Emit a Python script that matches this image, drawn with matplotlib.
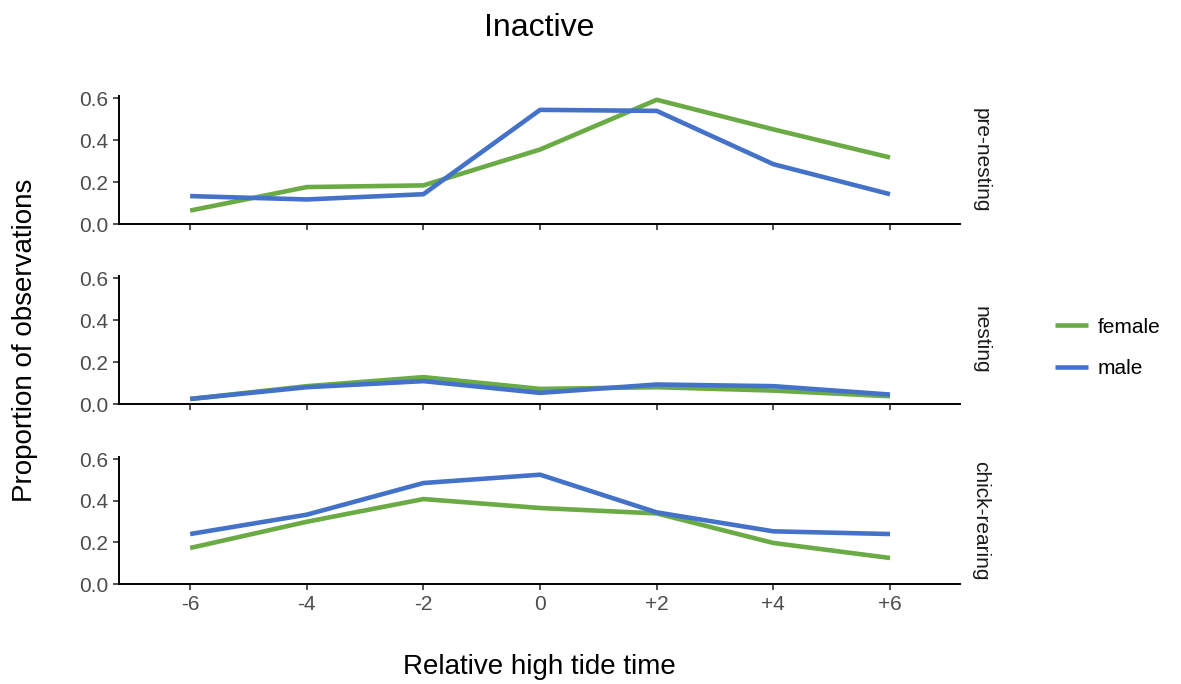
import matplotlib.pyplot as plt

plt.rcParams["font.family"] = ["Liberation Sans", "DejaVu Sans"]

TIDE = [-6, -4, -2, 0, 2, 4, 6]
TICK_LABELS = ["-6", "-4", "-2", "0", "+2", "+4", "+6"]
STAGES = ["pre-nesting", "nesting", "chick-rearing"]

FEMALE = {
    "pre-nesting": [0.064, 0.176, 0.184, 0.355, 0.592, 0.451, 0.317],
    "nesting": [0.024, 0.085, 0.128, 0.072, 0.080, 0.064, 0.037],
    "chick-rearing": [0.173, 0.299, 0.408, 0.365, 0.339, 0.197, 0.125],
}
MALE = {
    "pre-nesting": [0.133, 0.117, 0.142, 0.544, 0.539, 0.285, 0.142],
    "nesting": [0.024, 0.080, 0.109, 0.053, 0.093, 0.085, 0.045],
    "chick-rearing": [0.240, 0.333, 0.485, 0.525, 0.344, 0.253, 0.240],
}

GREEN = "#6aab45"
BLUE = "#4472c8"
TICK_GREY = "#4d4d4d"

W, H = 1181, 684
fig = plt.figure(figsize=(W / 100, H / 100), dpi=100)

left, right = 119 / W, 960 / W
panel_px = [(96, 224), (276, 404), (457, 584)]

axes = []
for i, stage in enumerate(STAGES):
    top, bot = panel_px[i]
    ax = fig.add_axes([left, 1 - bot / H, right - left, (bot - top) / H])
    ax.plot(TIDE, FEMALE[stage], color=GREEN, linewidth=3.3, label="female",
            solid_capstyle="butt")
    ax.plot(TIDE, MALE[stage], color=BLUE, linewidth=3.3, label="male",
            solid_capstyle="butt")
    ax.set_xlim(-7.22, 7.2)
    ax.set_ylim(0, 0.61)
    ax.set_yticks([0.0, 0.2, 0.4, 0.6])
    ax.set_yticklabels(["0.0", "0.2", "0.4", "0.6"])
    ax.set_xticks(TIDE)
    if i == len(STAGES) - 1:
        ax.set_xticklabels(TICK_LABELS)
    else:
        ax.set_xticklabels([])
    for side in ["top", "right"]:
        ax.spines[side].set_visible(False)
    for side in ["left", "bottom"]:
        ax.spines[side].set_color("black")
        ax.spines[side].set_linewidth(1.4)
    ax.tick_params(axis="both", direction="out", length=4, width=1.2,
                   color="#333333", labelcolor=TICK_GREY, labelsize=15, pad=4)
    ax.text(1.025, 0.5, stage, transform=ax.transAxes, rotation=270,
            ha="center", va="center", fontsize=15, color="#1a1a1a")
    axes.append(ax)

fig.text((left + right) / 2, 1 - 28 / H, "Inactive", ha="center", va="center",
         fontsize=23)
fig.text((left + right) / 2, 1 - 667 / H, "Relative high tide time",
         ha="center", va="center", fontsize=20)
fig.text(25 / W, 1 - 340 / H, "Proportion of observations", rotation=90,
         ha="center", va="center", fontsize=20)

handles, labels = axes[0].get_legend_handles_labels()
fig.legend(handles, labels, loc="center left",
           bbox_to_anchor=(1055 / W, 1 - 348 / H), frameon=False,
           borderpad=0, borderaxespad=0,
           fontsize=15, handlelength=1.6, labelspacing=1.1, handletextpad=0.45)

fig.savefig("out.png", dpi=100)
